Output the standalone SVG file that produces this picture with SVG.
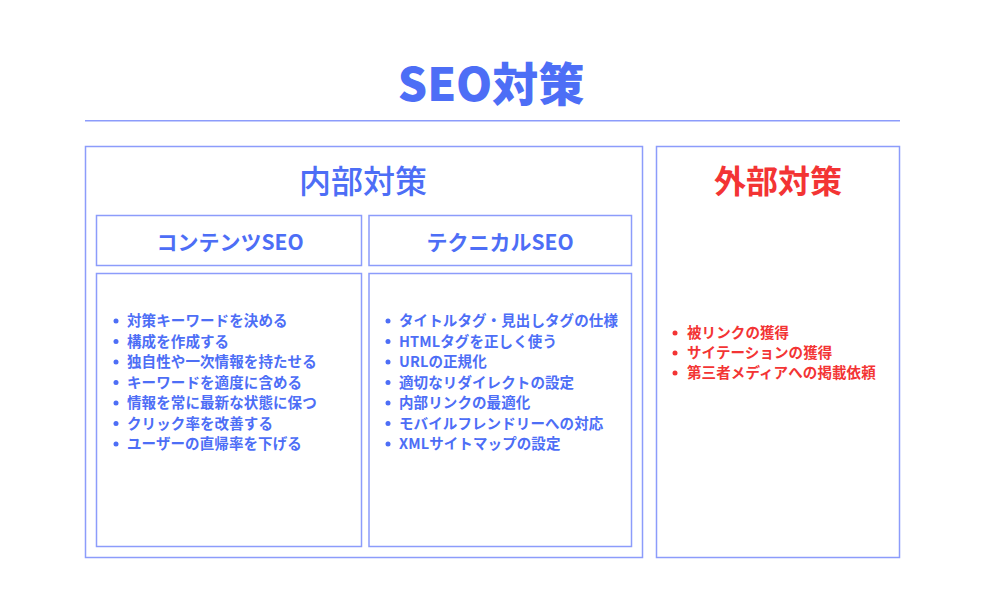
<svg xmlns="http://www.w3.org/2000/svg" width="1000" height="600" viewBox="0 0 1000 600">
<style>
.box{fill:#ffffff;stroke:#8c9cfb;stroke-width:1.5}
.t{font-family:"Noto Sans CJK JP","Noto Sans",sans-serif;fill:#4d6ef6}
.title{font-size:46px;font-weight:900;text-anchor:middle}
.h1{font-size:32px;font-weight:500;text-anchor:middle}
.h2{font-size:21px;font-weight:700;text-anchor:middle}
.li{font-size:14.5px;font-weight:700;letter-spacing:0.1px}
.red{fill:#f33434}
.dot{fill:#4d6ef6}
.dotr{fill:#f33434}
</style>
<rect width="1000" height="600" fill="#ffffff"/>
<g id="title">
<text class="t title" x="491" y="101">SEO対策</text>
<line x1="85" y1="120.7" x2="900" y2="120.7" stroke="#8c9cfb" stroke-width="1.5"/>
</g>
<g id="internal">
<rect class="box" x="85.5" y="146.5" width="557" height="411"/>
<text class="t h1" x="363" y="193">内部対策</text>
</g>
<g id="contents-seo">
<rect class="box" x="96.5" y="215.5" width="265" height="50"/>
<text class="t h2" x="230" y="250">コンテンツSEO</text>
<rect class="box" x="96.5" y="273.5" width="265" height="273"/>
<g class="dot">
<circle cx="116" cy="321" r="2.5"/><circle cx="116" cy="341.5" r="2.5"/><circle cx="116" cy="362" r="2.5"/><circle cx="116" cy="382.5" r="2.5"/><circle cx="116" cy="403" r="2.5"/><circle cx="116" cy="423.5" r="2.5"/><circle cx="116" cy="444" r="2.5"/>
</g>
<text class="t li" x="127" y="326">対策キーワードを決める</text>
<text class="t li" x="127" y="346.5">構成を作成する</text>
<text class="t li" x="127" y="367">独自性や一次情報を持たせる</text>
<text class="t li" x="127" y="387.5">キーワードを適度に含める</text>
<text class="t li" x="127" y="408">情報を常に最新な状態に保つ</text>
<text class="t li" x="127" y="428.5">クリック率を改善する</text>
<text class="t li" x="127" y="449">ユーザーの直帰率を下げる</text>
</g>
<g id="technical-seo">
<rect class="box" x="369" y="215.5" width="262.5" height="50"/>
<text class="t h2" x="500" y="250">テクニカルSEO</text>
<rect class="box" x="369" y="273.5" width="262.5" height="273"/>
<g class="dot">
<circle cx="388" cy="321" r="2.5"/><circle cx="388" cy="341.5" r="2.5"/><circle cx="388" cy="362" r="2.5"/><circle cx="388" cy="382.5" r="2.5"/><circle cx="388" cy="403" r="2.5"/><circle cx="388" cy="423.5" r="2.5"/><circle cx="388" cy="444" r="2.5"/>
</g>
<text class="t li" x="399" y="326">タイトルタグ・見出しタグの仕様</text>
<text class="t li" x="399" y="346.5">HTMLタグを正しく使う</text>
<text class="t li" x="399" y="367">URLの正規化</text>
<text class="t li" x="399" y="387.5">適切なリダイレクトの設定</text>
<text class="t li" x="399" y="408">内部リンクの最適化</text>
<text class="t li" x="399" y="428.5">モバイルフレンドリーへの対応</text>
<text class="t li" x="399" y="449">XMLサイトマップの設定</text>
</g>
<g id="external">
<rect class="box" x="656.5" y="146.5" width="243" height="411"/>
<text class="t h1 red" x="778" y="193" style="font-weight:700">外部対策</text>
<g class="dotr">
<circle cx="675" cy="333" r="2.5"/><circle cx="675" cy="353" r="2.5"/><circle cx="675" cy="373" r="2.5"/>
</g>
<text class="t li red" x="687" y="338">被リンクの獲得</text>
<text class="t li red" x="687" y="358">サイテーションの獲得</text>
<text class="t li red" x="687" y="378">第三者メディアへの掲載依頼</text>
</g>
<g id="connectors"/>
</svg>
